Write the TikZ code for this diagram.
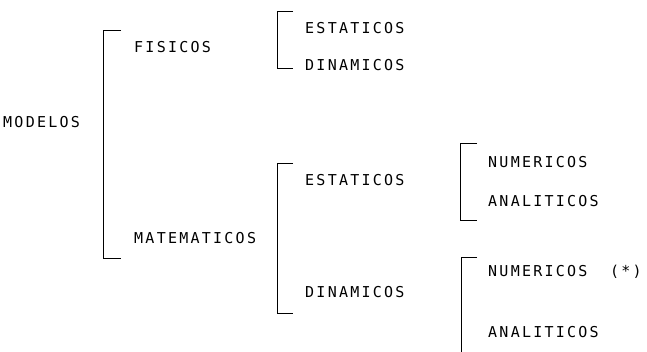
\documentclass[tikz,border=0pt]{standalone}
\usepackage{fontspec}
\usepackage{tikz}
\newfontfamily\printfont{DejaVu Sans Mono}[LetterSpace=15]

\begin{document}
\begin{tikzpicture}[x=1pt, y=-1pt,
        lbl/.style={anchor=west, inner sep=0pt, font=\printfont\fontsize{15}{18}\selectfont},
        brk/.style={draw, line width=1pt}]
        \useasboundingbox (0,0) rectangle (647,351);

        \node (modelos) [lbl] at (3,122) {MODELOS};
        \node (fis) [lbl] at (134,47) {FISICOS};
        \node (mat) [lbl] at (134,238) {MATEMATICOS};
        \node (fest) [lbl] at (305,28) {ESTATICOS};
        \node (fdin) [lbl] at (305,65) {DINAMICOS};
        \node (mest) [lbl] at (305,180) {ESTATICOS};
        \node (mdin) [lbl] at (305,292) {DINAMICOS};
        \node (enum) [lbl] at (488,162) {NUMERICOS};
        \node (eana) [lbl] at (488,201) {ANALITICOS};
        \node (dnum) [lbl] at (488,272) {NUMERICOS\ \ (*)};
        \node (dana) [lbl] at (488,332) {ANALITICOS};

        % bracket corners
        \coordinate (b1t) at (103,30);  \coordinate (b1b) at (103,258);
        \coordinate (b2t) at (277,11);  \coordinate (b2b) at (277,68);
        \coordinate (b3t) at (277,163); \coordinate (b3b) at (277,313);
        \coordinate (b4t) at (460,143); \coordinate (b4b) at (460,220);
        \coordinate (b5t) at (461,257); \coordinate (b5b) at (461,360);

        \draw[brk] (b1t) ++(18,0) -- (b1t) -- (b1b) -- ++(18,0);
        \draw[brk] (b2t) ++(16,0) -- (b2t) -- (b2b) -- ++(16,0);
        \draw[brk] (b3t) ++(16,0) -- (b3t) -- (b3b) -- ++(16,0);
        \draw[brk] (b4t) ++(17,0) -- (b4t) -- (b4b) -- ++(17,0);
        \draw[brk] (b5t) ++(16,0) -- (b5t) -- (b5b);
    \end{tikzpicture}
\end{document}
